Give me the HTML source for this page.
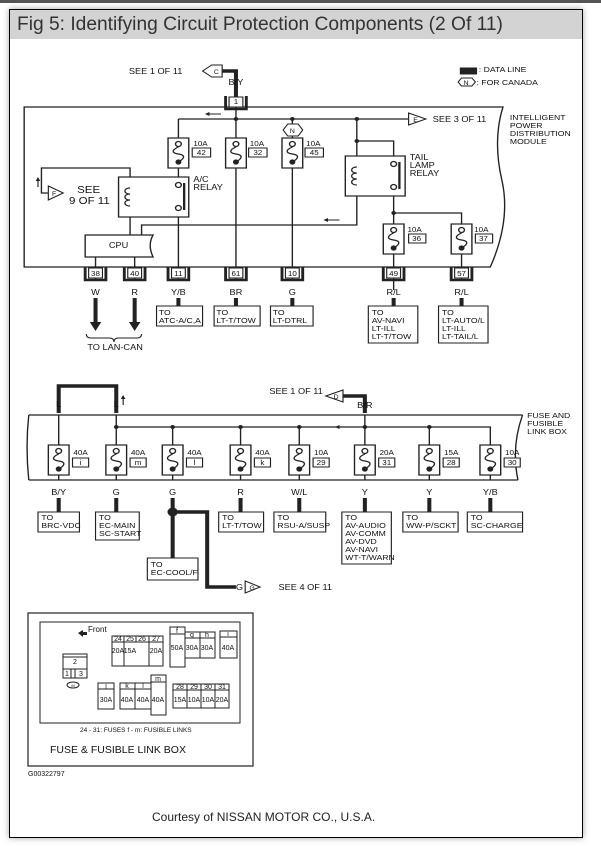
<!DOCTYPE html>
<html><head><meta charset="utf-8"><style>
html,body{margin:0;padding:0;background:#fff;width:601px;height:852px;overflow:hidden}
.top{position:absolute;left:0;top:0;width:601px;height:3px;background:#555}
.frame{position:absolute;left:9px;top:9px;width:572px;height:827px;border:1px solid #000;box-shadow:0 0 6px rgba(0,0,0,.35);background:#fff}
.title{position:absolute;left:10px;top:10px;width:572px;height:29px;background:#d3d3d3;font:19.2px "Liberation Sans",sans-serif;color:#333;line-height:29px;padding-left:7px;box-sizing:border-box}
.court{position:absolute;left:152px;top:810px;font:12px "Liberation Sans",sans-serif;color:#222}
svg{position:absolute;left:0;top:0}
text{font-family:"Liberation Sans",sans-serif;fill:#111}
</style></head><body>
<div class="top"></div>
<div class="frame"></div>
<div class="title">Fig 5: Identifying Circuit Protection Components (2 Of 11)</div>
<svg width="601" height="852" viewBox="0 0 601 852" font-size="8">
<defs>
<g id="fuse" fill="none" stroke="#222" stroke-width="1.2">
<rect x="-9" y="0" width="18" height="30" fill="#fff"/>
<circle cx="0" cy="6" r="2.5" fill="#fff"/>
<path d="M0 9 C-6 12,-6 15,0 16 C6 17,6 20,0 24"/>
<circle cx="0" cy="24" r="2" fill="#222"/>
</g>
<g id="conn" fill="none" stroke="#222">
<path d="M-9 0 V13 H9 V0" stroke-width="2.5"/>
<rect x="-6" y="1" width="12" height="10" fill="#fff" stroke-width="1"/>
</g>
</defs>
<g transform="scale(1.151,1)">
<g stroke="#222" fill="none" stroke-width="1.2">
<path d="M21 107 H437 Q428 140 436 180 Q444 220 426 267 H21 Z"/>
<path d="M205 97 V71 H189" stroke-width="3.5"/>
<path d="M176 71 l8 -6 h9 v12 h-9 z" fill="#fff" stroke-width="1"/>
<path d="M205 107 V280"/>
<path d="M155 119 H355"/>
<path d="M355 113 l15 6 l-15 6 z" fill="#fff" stroke-width="1"/>
<path d="M155 119 V280"/>
<path d="M254 119 V280"/>
<path d="M310 119 V225 H123 V235"/>
<path d="M310 141 H342 V290"/>
<path d="M342 213 H401 V280"/>
<path d="M113 235 V168 H36 V193 H42"/>
<path d="M42 186 l13 7 l-13 7 z" fill="#fff" stroke-width="1"/>
<path d="M246 130 l4 -6 h9 l4 6 l-4 6 h-9 z" fill="#fff" stroke-width="1"/>
<rect x="103" y="177" width="61" height="40" fill="#fff"/>
<rect x="300" y="156" width="52" height="40" fill="#fff"/>
<path d="M74 235 H133 Q128 245 133 257 H74 Z" fill="#fff"/>
<path d="M83 257 V280 M117 257 V280"/>
<circle cx="155" cy="185" r="2.5" fill="#fff"/><circle cx="155" cy="208" r="2.5" fill="#fff"/>
<path d="M160 183 V210" stroke-width="2"/>
<path d="M113 188 c-6 0 -6 6 0 6 c-6 0 -6 6 0 6 c-6 0 -6 6 0 6"/>
<circle cx="342" cy="164" r="2.5" fill="#fff"/><circle cx="342" cy="187" r="2.5" fill="#fff"/>
<path d="M347 162 V189" stroke-width="2"/>
<path d="M310 167 c-6 0 -6 6 0 6 c-6 0 -6 6 0 6 c-6 0 -6 6 0 6"/>
<path d="M33 187 V180 M192 114 H182 M295 220 H285" stroke-width="1"/>
</g>
<g fill="#222">
<circle cx="205" cy="119" r="2"/><circle cx="254" cy="119" r="2"/><circle cx="310" cy="119" r="2"/><circle cx="310" cy="141" r="2"/><circle cx="342" cy="213" r="2"/>
<path d="M31 181 l2 -4 l2 4z M182 112 l-4 2 l4 2z M285 218 l-4 2 l4 2z"/>
</g>
<use href="#fuse" x="155" y="138"/><use href="#fuse" x="205" y="138"/><use href="#fuse" x="254" y="138"/>
<use href="#fuse" x="342" y="224"/><use href="#fuse" x="401" y="224"/>
<use href="#conn" x="205" y="96"/>
<use href="#conn" x="83" y="267"/><use href="#conn" x="117" y="267"/><use href="#conn" x="155" y="267"/><use href="#conn" x="205" y="267"/><use href="#conn" x="254" y="267"/><use href="#conn" x="342" y="267"/><use href="#conn" x="401" y="267"/>
<g stroke="#222" stroke-width="3.5" fill="none">
<path d="M155 298 V306 M205 298 V306 M254 298 V306 M342 298 V306 M401 298 V306"/>
<path d="M83 298 V322 M117 298 V322"/>
</g>
<path d="M78 322 h10 l-5 9z M112 322 h10 l-5 9z" fill="#222"/>
<path d="M75 334 q0 4 4 4 h16 q4 0 4 4 q0-4 4-4 h16 q4 0 4-4" fill="none" stroke="#222"/>
<g fill="#fff" stroke="#222">
<rect x="136" y="306" width="40" height="20"/><rect x="186" y="306" width="40" height="20"/><rect x="235" y="306" width="37" height="20"/>
<rect x="320" y="306" width="43" height="37"/><rect x="381" y="306" width="43" height="37"/>
<rect x="167" y="148" width="16" height="9"/><rect x="216" y="148" width="16" height="9"/><rect x="265" y="148" width="16" height="9"/>
<rect x="355" y="234" width="15" height="9"/><rect x="413" y="234" width="15" height="9"/>
<rect x="400" y="68" width="14" height="6" fill="#222"/>
<path d="M398 82 l3 -4 h9 l3 4 l-3 4 h-9z"/>
</g>
<g text-anchor="middle">
<text x="205" y="104" font-size="7">1</text>
<text x="83" y="276" font-size="7">38</text><text x="117" y="276" font-size="7">40</text><text x="155" y="276" font-size="7">11</text><text x="205" y="276" font-size="7">61</text><text x="254" y="276" font-size="7">10</text><text x="342" y="276" font-size="7">49</text><text x="401" y="276" font-size="7">57</text>
<text x="205" y="85">B/Y</text>
<text x="83" y="295">W</text><text x="117" y="295">R</text><text x="155" y="295">Y/B</text><text x="205" y="295">BR</text><text x="254" y="295">G</text><text x="342" y="295">R/L</text><text x="401" y="295">R/L</text>
<text x="175" y="155" font-size="7">42</text><text x="224" y="155" font-size="7">32</text><text x="273" y="155" font-size="7">45</text><text x="362" y="241" font-size="7">36</text><text x="420" y="241" font-size="7">37</text>
<text x="254" y="133" font-size="6">N</text><text x="188" y="74" font-size="6">C</text><text x="361" y="122" font-size="6">E</text><text x="47" y="196" font-size="6">F</text><text x="405" y="85" font-size="6">N</text>
<text x="103" y="248">CPU</text>
<text x="100" y="350">TO LAN-CAN</text>
</g>
<text x="112" y="74">SEE 1 OF 11</text>
<text x="376" y="122">SEE 3 OF 11</text>
<text x="443" y="120" font-size="7.5">INTELLIGENT</text><text x="443" y="128" font-size="7.5">POWER</text><text x="443" y="136" font-size="7.5">DISTRIBUTION</text><text x="443" y="144" font-size="7.5">MODULE</text>
<text x="416" y="72" font-size="7.5">: DATA LINE</text><text x="414" y="85" font-size="7.5">: FOR CANADA</text>
<text x="168" y="146" font-size="7">10A</text><text x="217" y="146" font-size="7">10A</text><text x="266" y="146" font-size="7">10A</text><text x="354" y="232" font-size="7">10A</text><text x="412" y="232" font-size="7">10A</text>
<text x="168" y="182">A/C</text><text x="168" y="190">RELAY</text>
<text x="356" y="160">TAIL</text><text x="356" y="168">LAMP</text><text x="356" y="176">RELAY</text>
<text x="67" y="193" font-size="10">SEE</text><text x="60" y="204" font-size="10">9 OF 11</text>
<g font-size="7.5">
<text x="138" y="315">TO</text><text x="138" y="323">ATC-A/C,A</text>
<text x="188" y="315">TO</text><text x="188" y="323">LT-T/TOW</text>
<text x="237" y="315">TO</text><text x="237" y="323">LT-DTRL</text>
<text x="323" y="315">TO</text><text x="323" y="323">AV-NAVI</text><text x="323" y="331">LT-ILL</text><text x="323" y="339">LT-T/TOW</text>
<text x="384" y="315">TO</text><text x="384" y="323">LT-AUTO/L</text><text x="384" y="331">LT-ILL</text><text x="384" y="339">LT-TAIL/L</text>
</g>

<g stroke="#222" fill="none" stroke-width="1.2">
<path d="M25 415 H454 M25 480 H450 M25 415 Q22 447 25 480 M454 415 Q444 447 450 480"/>
<path d="M51 415 V480 M101 415 V480 M101 427 H426 V480 M150 427 V480 M209 427 V480 M260 427 V480 M317 415 V480 M373 427 V480"/>
</g>
<g stroke="#222" stroke-width="3.5" fill="none">
<path d="M51 413 V386 H101 V413"/>
<path d="M317 413 V396 H296"/>
<path d="M51 498 V512 M101 498 V512 M209 498 V512 M260 498 V512 M317 498 V512 M373 498 V512 M426 498 V512"/>
<path d="M150 498 V562 M150 512 H180 V587 H205"/>
</g>
<circle cx="150" cy="512" r="4.5" fill="#222"/>
<path d="M298 390 l-15 6 l15 6 z M213 581 l13 6 l-13 6 z" fill="#fff" stroke="#222"/>
<path d="M304 427 H295 M107 405 V398" stroke="#222"/>
<path d="M295 425 l-4 2 l4 2z M105 399 l2 -4 l2 4z" fill="#222"/>
<g fill="#222"><circle cx="101" cy="427" r="2"/><circle cx="150" cy="427" r="2"/><circle cx="209" cy="427" r="2"/><circle cx="260" cy="427" r="2"/><circle cx="317" cy="427" r="2"/><circle cx="373" cy="427" r="2"/></g>
<use href="#fuse" x="51" y="445"/><use href="#fuse" x="101" y="445"/><use href="#fuse" x="150" y="445"/><use href="#fuse" x="209" y="445"/><use href="#fuse" x="260" y="445"/><use href="#fuse" x="317" y="445"/><use href="#fuse" x="373" y="445"/><use href="#fuse" x="426" y="445"/>
<g fill="#fff" stroke="#222">
<rect x="63" y="458" width="14" height="9"/><rect x="113" y="458" width="14" height="9"/><rect x="162" y="458" width="14" height="9"/><rect x="221" y="458" width="14" height="9"/><rect x="272" y="458" width="14" height="9"/><rect x="329" y="458" width="14" height="9"/><rect x="385" y="458" width="14" height="9"/><rect x="438" y="458" width="14" height="9"/>
<rect x="33" y="512" width="36" height="20"/><rect x="83" y="512" width="38" height="28"/><rect x="190" y="512" width="39" height="20"/><rect x="238" y="512" width="45" height="20"/><rect x="297" y="512" width="43" height="52"/><rect x="350" y="512" width="48" height="20"/><rect x="406" y="512" width="48" height="20"/><rect x="128" y="558" width="44" height="22"/>
</g>
<g text-anchor="middle">
<text x="70" y="465" font-size="7">i</text><text x="120" y="465" font-size="7">m</text><text x="169" y="465" font-size="7">l</text><text x="228" y="465" font-size="7">k</text><text x="279" y="465" font-size="7">29</text><text x="336" y="465" font-size="7">31</text><text x="392" y="465" font-size="7">28</text><text x="445" y="465" font-size="7">30</text>
<text x="70" y="455" font-size="7">40A</text><text x="120" y="455" font-size="7">40A</text><text x="169" y="455" font-size="7">40A</text><text x="228" y="455" font-size="7">40A</text><text x="279" y="455" font-size="7">10A</text><text x="336" y="455" font-size="7">20A</text><text x="392" y="455" font-size="7">15A</text><text x="445" y="455" font-size="7">10A</text>
<text x="51" y="495">B/Y</text><text x="101" y="495">G</text><text x="150" y="495">G</text><text x="209" y="495">R</text><text x="260" y="495">W/L</text><text x="317" y="495">Y</text><text x="373" y="495">Y</text><text x="426" y="495">Y/B</text>
<text x="51" y="407">L</text><text x="101" y="407">L</text><text x="317" y="408">B/R</text><text x="208" y="590">G</text>
<text x="292" y="399" font-size="6">D</text><text x="219" y="590" font-size="6">G</text>
</g>
<text x="234" y="394">SEE 1 OF 11</text><text x="242" y="590">SEE 4 OF 11</text>
<text x="458" y="418" font-size="7.5">FUSE AND</text><text x="458" y="426" font-size="7.5">FUSIBLE</text><text x="458" y="434" font-size="7.5">LINK BOX</text>
<g font-size="7.5">
<text x="36" y="520">TO</text><text x="36" y="528">BRC-VDC</text>
<text x="86" y="520">TO</text><text x="86" y="528">EC-MAIN</text><text x="86" y="536">SC-START</text>
<text x="193" y="520">TO</text><text x="193" y="528">LT-T/TOW</text>
<text x="241" y="520">TO</text><text x="241" y="528">RSU-A/SUSP</text>
<text x="300" y="520">TO</text><text x="300" y="528">AV-AUDIO</text><text x="300" y="536">AV-COMM</text><text x="300" y="544">AV-DVD</text><text x="300" y="552">AV-NAVI</text><text x="300" y="560">WT-T/WARN</text>
<text x="353" y="520">TO</text><text x="353" y="528">WW-P/SCKT</text>
<text x="409" y="520">TO</text><text x="409" y="528">SC-CHARGE</text>
<text x="131" y="567">TO</text><text x="131" y="575">EC-COOL/F</text>
</g>
</g>

<g fill="none" stroke="#222">
<rect x="28" y="613" width="225" height="153" stroke-width="1.2"/>
<rect x="40" y="622" width="200" height="101"/>
<rect x="112" y="636" width="51" height="30" fill="#fff"/><path d="M112 642 H163 M124 636 V666 M136 636 V642 M149 636 V666"/>
<rect x="170" y="627" width="15" height="40" fill="#fff"/><path d="M170 634 H185"/>
<rect x="185" y="632" width="30" height="26" fill="#fff"/><path d="M185 638 H215 M200 632 V658"/>
<rect x="220" y="631" width="17" height="27" fill="#fff"/><path d="M220 637 H237"/>
<rect x="63" y="654" width="24" height="24" fill="#fff"/><path d="M63 657 H87 M63 669 H87 M71 669 V678 M75 669 V678"/>
<ellipse cx="73" cy="685" rx="6" ry="3"/>
<rect x="98" y="683" width="16" height="26" fill="#fff"/><path d="M98 689 H114"/>
<rect x="120" y="683" width="31" height="26" fill="#fff"/><path d="M120 689 H151 M135 683 V709"/>
<rect x="151" y="675" width="15" height="40" fill="#fff"/><path d="M151 682 H166"/>
<rect x="173" y="684" width="56" height="24" fill="#fff"/><path d="M173 690 H229 M187 684 V708 M201 684 V708 M215 684 V708"/>
</g>
<path d="M78 633 l5 -3 v2 h4 v3 h-4 v2z" fill="#222"/>
<g font-size="7" text-anchor="middle">
<text x="118" y="641">24</text><text x="130" y="641">25</text><text x="142" y="641">26</text><text x="156" y="641">27</text>
<text x="118" y="653">20A</text><text x="130" y="653">15A</text><text x="156" y="653">20A</text>
<text x="177" y="633">f</text><text x="177" y="650">50A</text><text x="192" y="637">g</text><text x="207" y="637">h</text><text x="192" y="650">30A</text><text x="207" y="650">30A</text><text x="228" y="636">i</text><text x="228" y="650">40A</text>
<text x="75" y="664">2</text><text x="67" y="676">1</text><text x="81" y="676">3</text><text x="73" y="687" font-size="4">M</text>
<text x="106" y="688">j</text><text x="106" y="702">30A</text><text x="127" y="688">k</text><text x="143" y="688">l</text><text x="127" y="702">40A</text><text x="143" y="702">40A</text><text x="158" y="681">m</text><text x="158" y="702">40A</text>
<text x="180" y="689">28</text><text x="194" y="689">29</text><text x="208" y="689">30</text><text x="222" y="689">31</text>
<text x="180" y="702">15A</text><text x="194" y="702">10A</text><text x="208" y="702">10A</text><text x="222" y="702">20A</text>
</g>
<text x="88" y="632" font-size="8">Front</text>
<text x="80" y="732" font-size="6.5">24 - 31: FUSES     f - m: FUSIBLE LINKS</text>
<text x="50" y="753" font-size="10.5">FUSE &amp; FUSIBLE LINK BOX</text>
<text x="28" y="776" font-size="7">G00322797</text>
</svg>
<div class="court">Courtesy of NISSAN MOTOR CO., U.S.A.</div>
</body></html>
